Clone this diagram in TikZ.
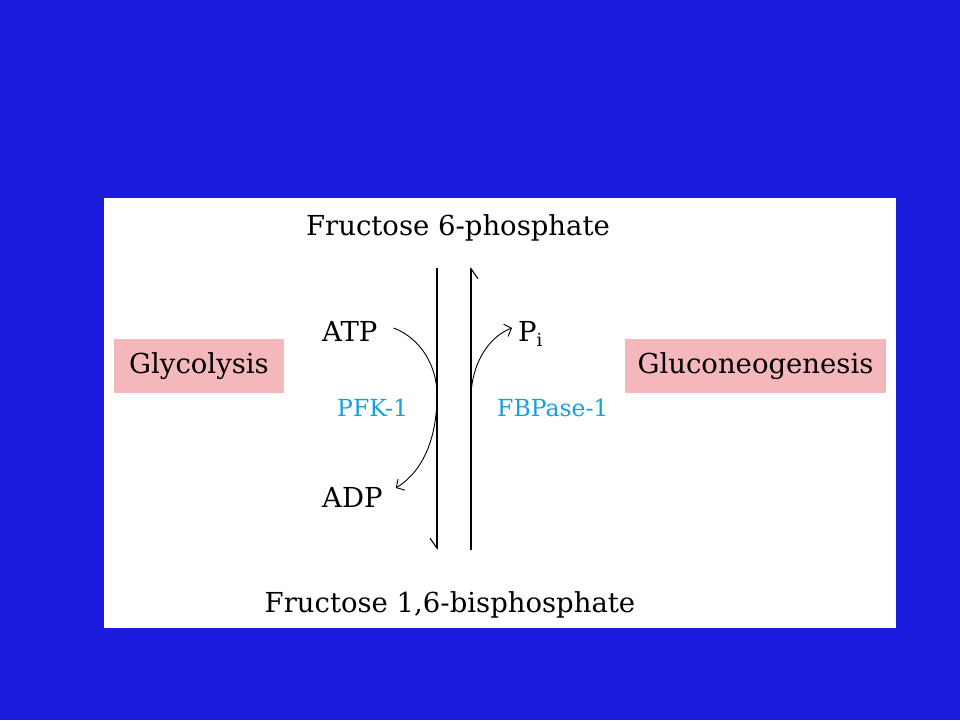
\documentclass[tikz,border=0pt]{standalone}
\usepackage{fontspec}
\setmainfont{DejaVu Serif}
\usetikzlibrary{arrows.meta}
\definecolor{bgblue}{RGB}{28,28,222}
\definecolor{boxpink}{RGB}{244,184,188}
\definecolor{enzblue}{RGB}{20,160,225}
\begin{document}
\begin{tikzpicture}[x=1pt,y=-1pt,
  lbl/.style={inner sep=0pt, font=\fontsize{27.5}{33}\selectfont, text=black},
  enz/.style={inner sep=0pt, font=\fontsize{23.5}{28}\selectfont, text=enzblue},
  pbox/.style={fill=boxpink, inner sep=0pt, minimum height=54pt, font=\fontsize{27.5}{33}\selectfont},
  rx/.style={line width=1.1pt, draw=black},
  harp/.style={-{Straight Barb[right, length=10pt, width=14pt, line width=1.1pt]}},
  curv/.style={line width=0.9pt, -{Straight Barb[length=6pt, width=13pt, line width=0.9pt]}}]
\useasboundingbox (0,0) rectangle (960,720);
\fill[bgblue] (0,0) rectangle (960,720);
\fill[white] (104,198) rectangle (896,628);
% boxes
\node[pbox, minimum width=170pt] (gly) at (199,366) {Glycolysis};
\node[pbox, minimum width=261pt] (glu) at (755.5,366) {Gluconeogenesis};
% metabolites
\node[lbl, anchor=base] (f6p) at (458,235) {Fructose 6-phosphate};
\node[lbl, anchor=base] (f16) at (450,612) {Fructose 1,6-bisphosphate};
\node[lbl, anchor=base west] (atp) at (322,341) {ATP};
\node[lbl, anchor=base west] (adp) at (322,507) {ADP};
\node[lbl, anchor=base west] (pi) at (518,341) {P\raisebox{-5pt}{\fontsize{18}{20}\selectfont i}};
\node[enz, anchor=base west] (pfk) at (337,416) {PFK-1};
\node[enz, anchor=base west] (fbp) at (497,416) {FBPase-1};
% main arrows
\coordinate (lt) at (437,268);
\coordinate (lb) at (437,550);
\coordinate (rt) at (471,267);
\coordinate (rb) at (471,550);
\coordinate (lm) at (437,395);
\coordinate (rm) at (471,398);
\draw[rx, harp] (lt) -- (lb);
\draw[rx, harp] (rb) -- (rt);
% side arrows
\draw[curv] ([xshift=16pt,yshift=13pt]atp.base east) .. controls (420,338) and (437,365) .. (lm)
  .. controls (437,435) and (425,470) .. ([xshift=13pt,yshift=19pt]adp.base east);
\draw[curv] (rm) .. controls (471,365) and (488,337) .. ([xshift=-6pt,yshift=13pt]pi.base west);
\end{tikzpicture}
\end{document}
